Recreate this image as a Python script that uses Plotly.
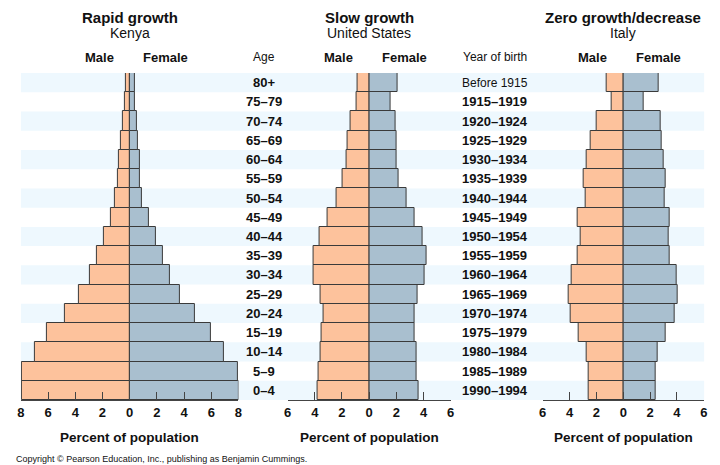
import plotly.graph_objects as go

ages = ["0–4", "5–9", "10–14", "15–19", "20–24", "25–29", "30–34", "35–39", "40–44",
        "45–49", "50–54", "55–59", "60–64", "65–69", "70–74", "75–79", "80+"]
birth_years = ["1990–1994", "1985–1989", "1980–1984", "1975–1979", "1970–1974", "1965–1969",
               "1960–1964", "1955–1959", "1950–1954", "1945–1949", "1940–1944", "1935–1939",
               "1930–1934", "1925–1929", "1920–1924", "1915–1919", "Before 1915"]

kenya_male = [7.96, 7.9, 7.0, 6.06, 4.73, 3.71, 2.94, 2.38, 1.89, 1.41, 1.05, 0.9, 0.78, 0.61, 0.47, 0.32, 0.25]
kenya_female = [8.0, 7.97, 6.91, 5.99, 4.8, 3.68, 2.95, 2.42, 1.96, 1.45, 0.92, 0.77, 0.73, 0.63, 0.53, 0.39, 0.39]
us_male = [3.81, 3.71, 3.56, 3.49, 3.35, 3.54, 4.07, 4.07, 3.64, 3.08, 2.42, 1.92, 1.65, 1.58, 1.38, 0.92, 0.87]
us_female = [3.66, 3.52, 3.47, 3.32, 3.32, 3.56, 4.07, 4.22, 3.93, 3.32, 2.74, 2.16, 2.02, 2.04, 1.94, 1.55, 2.06]
italy_male = [2.55, 2.55, 2.72, 3.3, 3.93, 4.1, 3.85, 3.37, 3.18, 3.37, 2.79, 2.93, 2.69, 2.4, 1.96, 0.9, 1.26]
italy_female = [2.38, 2.38, 2.55, 3.18, 3.8, 4.03, 3.98, 3.47, 3.37, 3.42, 3.1, 3.18, 2.98, 2.86, 2.79, 1.55, 2.67]

kenya_ticks = [-8, -6, -4, -2, 0, 2, 4, 6, 8]
other_ticks = [-6, -4, -2, 0, 2, 4, 6]

# page body has an 8px margin: size the figure so it fills the 720x465 window
OFF = 8
W, H = 720 - OFF, 465 - OFF
MALE_C = "#fdc29c"
FEMALE_C = "#a9bfcf"
STRIPE_C = "#eef8fe"
OUT_C = "#3a3a3a"
FONT = "Liberation Sans, Arial, sans-serif"

def px(x):
    return (x - OFF) / W

def py(y):
    return 1 - (y - OFF) / H

panels = [
    ("Rapid growth", "Kenya", kenya_male, kenya_female, (17, 237), 8, kenya_ticks, ""),
    ("Slow growth", "United States", us_male, us_female, (286.7, 451.7), 6, other_ticks, "2"),
    ("Zero growth/decrease", "Italy", italy_male, italy_female, (544.7, 707.7), 6, other_ticks, "3"),
]

fig = go.Figure()
yidx = list(range(len(ages)))
annotations = []
layout_axes = {}

for title, country, male, female, (x0, x1), rng, ticks, sfx in panels:
    xa = "x" + sfx
    fig.add_trace(go.Bar(y=yidx, x=[-v for v in male], orientation="h", xaxis=xa, yaxis="y",
                         marker=dict(color=MALE_C, line=dict(color=OUT_C, width=1)),
                         width=1, showlegend=False, name="Male"))
    fig.add_trace(go.Bar(y=yidx, x=female, orientation="h", xaxis=xa, yaxis="y",
                         marker=dict(color=FEMALE_C, line=dict(color=OUT_C, width=1)),
                         width=1, showlegend=False, name="Female"))
    axname = "xaxis" + sfx
    layout_axes[axname] = dict(
        domain=[px(x0), px(x1)], range=[-rng, rng], anchor="y",
        tickvals=ticks, ticktext=[str(abs(t)) for t in ticks],
        ticks="inside", ticklen=8, tickwidth=1.3, tickcolor="#444",
        showline=True, linecolor="#444", linewidth=1.3,
        showgrid=False, zeroline=False, fixedrange=True,
        tickfont=dict(family=FONT, size=13, color="#111", weight="bold"),
    )
    cx = (x0 + x1) / 2
    annotations += [
        dict(text="<b>%s</b>" % title, x=px(cx), y=py(17), font=dict(size=15)),
        dict(text=country, x=px(cx), y=py(33), font=dict(size=14)),
        dict(text="<b>Male</b>", x=px(cx - 31), y=py(57), font=dict(size=13)),
        dict(text="<b>Female</b>", x=px(cx + 36), y=py(57), font=dict(size=13)),
        dict(text="<b>Percent of population</b>", x=px(cx), y=py(437), font=dict(size=13.5)),
    ]

annotations += [
    dict(text="Age", x=px(263), y=py(57), font=dict(size=12)),
    dict(text="Year of birth", x=px(496), y=py(57), font=dict(size=12)),
]
for i, (a, b) in enumerate(zip(ages, birth_years)):
    annotations.append(dict(text="<b>%s</b>" % a, x=px(263), xref="paper", y=i, yref="y",
                            font=dict(size=13)))
    if b == "Before 1915":
        annotations.append(dict(text=b, x=px(496), xref="paper", y=i, yref="y", font=dict(size=12)))
    else:
        annotations.append(dict(text="<b>%s</b>" % b, x=px(496), xref="paper", y=i, yref="y",
                                font=dict(size=13)))

annotations.append(dict(text="Copyright © Pearson Education, Inc., publishing as Benjamin Cummings.",
                        x=px(10), y=py(459), xanchor="left", font=dict(size=9)))

for a in annotations:
    a.setdefault("xref", "paper")
    a.setdefault("yref", "paper")
    a.setdefault("xanchor", "center")
    a["yanchor"] = "middle"
    a["showarrow"] = False
    f = a["font"]
    f.setdefault("family", FONT)
    f.setdefault("color", "#111")

shapes = []
for i in yidx:
    if i % 2 == 0:
        shapes.append(dict(type="rect", xref="paper", yref="y", x0=px(17), x1=px(708),
                           y0=i - 0.5, y1=i + 0.5, fillcolor=STRIPE_C, line=dict(width=0),
                           layer="below"))

fig.update_layout(
    width=W, height=H, margin=dict(l=0, r=0, t=0, b=0),
    paper_bgcolor="white", plot_bgcolor="rgba(0,0,0,0)",
    barmode="relative", bargap=0,
    yaxis=dict(domain=[py(400), py(73)], range=[-0.5, len(ages) - 0.5], visible=False,
               fixedrange=True),
    annotations=annotations, shapes=shapes,
    **layout_axes,
)

fig.write_html("out.html")
